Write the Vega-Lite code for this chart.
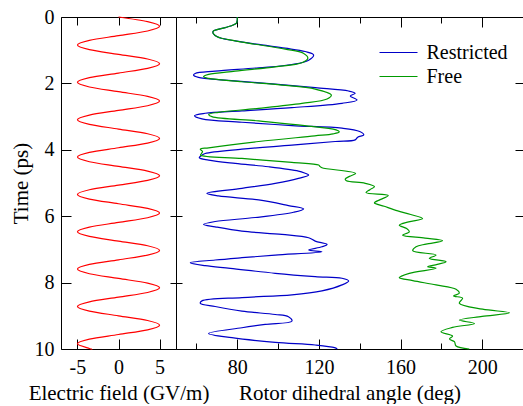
{
  "$schema": "https://vega.github.io/schema/vega-lite/v6.json",
  "padding": {"left": 9, "top": 6, "right": 0, "bottom": 0},
  "background": "white",
  "spacing": 0,
  "bounds": "flush",
  "config": {
    "font": "Liberation Serif",
    "view": {"stroke": "black", "strokeWidth": 1},
    "axis": {
      "domain": false, "grid": false, "tickColor": "black", "tickWidth": 1, "minExtent": 0,
      "labelFont": "Liberation Serif", "labelFontSize": 20, "labelColor": "black", "labelFlush": false,
      "titleFont": "Liberation Serif", "titleFontSize": 21, "titleFontWeight": "normal", "titleColor": "black"
    },
    "axisX": {"minExtent": 0},
    "axisY": {"minExtent": 0}
  },
  "datasets": {
    "efield": [
      {"t":0,"E":0},{"t":0.141,"E":3.54},{"t":0.281,"E":5},{"t":0.422,"E":3.54},{"t":0.563,"E":0},{"t":0.703,"E":-3.54},{"t":0.844,"E":-5},{"t":0.984,"E":-3.54},
      {"t":1.125,"E":0},{"t":1.266,"E":3.54},{"t":1.406,"E":5},{"t":1.547,"E":3.54},{"t":1.688,"E":0},{"t":1.828,"E":-3.54},{"t":1.969,"E":-5},{"t":2.109,"E":-3.54},
      {"t":2.25,"E":0},{"t":2.391,"E":3.54},{"t":2.531,"E":5},{"t":2.672,"E":3.54},{"t":2.813,"E":0},{"t":2.953,"E":-3.54},{"t":3.094,"E":-5},{"t":3.234,"E":-3.54},
      {"t":3.375,"E":0},{"t":3.516,"E":3.54},{"t":3.656,"E":5},{"t":3.797,"E":3.54},{"t":3.938,"E":0},{"t":4.078,"E":-3.54},{"t":4.219,"E":-5},{"t":4.359,"E":-3.54},
      {"t":4.5,"E":0},{"t":4.641,"E":3.54},{"t":4.781,"E":5},{"t":4.922,"E":3.54},{"t":5.063,"E":0},{"t":5.203,"E":-3.54},{"t":5.344,"E":-5},{"t":5.484,"E":-3.54},
      {"t":5.625,"E":0},{"t":5.766,"E":3.54},{"t":5.906,"E":5},{"t":6.047,"E":3.54},{"t":6.188,"E":0},{"t":6.328,"E":-3.54},{"t":6.469,"E":-5},{"t":6.609,"E":-3.54},
      {"t":6.75,"E":0},{"t":6.891,"E":3.54},{"t":7.031,"E":5},{"t":7.172,"E":3.54},{"t":7.313,"E":0},{"t":7.453,"E":-3.54},{"t":7.594,"E":-5},{"t":7.734,"E":-3.54},
      {"t":7.875,"E":0},{"t":8.016,"E":3.54},{"t":8.156,"E":5},{"t":8.297,"E":3.54},{"t":8.438,"E":0},{"t":8.578,"E":-3.54},{"t":8.719,"E":-5},{"t":8.859,"E":-3.54},
      {"t":9.0,"E":0},{"t":9.141,"E":3.54},{"t":9.281,"E":5},{"t":9.422,"E":3.54},{"t":9.563,"E":0},{"t":9.703,"E":-3.54},{"t":9.844,"E":-5},{"t":9.984,"E":-3.54},
      {"t":10,"E":-3.2}
    ],
    "angles": [
      {"t":0,"a":80,"s":"Restricted"},{"t":0.1,"a":80,"s":"Restricted"},{"t":0.19,"a":79.5,"s":"Restricted"},{"t":0.32,"a":74.1,"s":"Restricted"},{"t":0.44,"a":68.1,"s":"Restricted"},{"t":0.59,"a":70,"s":"Restricted"},{"t":0.72,"a":79,"s":"Restricted"},{"t":0.84,"a":92,"s":"Restricted"},{"t":0.94,"a":103.5,"s":"Restricted"},{"t":1.04,"a":113.3,"s":"Restricted"},{"t":1.14,"a":117.4,"s":"Restricted"},{"t":1.3,"a":115,"s":"Restricted"},{"t":1.43,"a":106.8,"s":"Restricted"},{"t":1.53,"a":90.5,"s":"Restricted"},{"t":1.63,"a":69.2,"s":"Restricted"},{"t":1.7,"a":59.4,"s":"Restricted"},{"t":1.75,"a":58.6,"s":"Restricted"},{"t":1.82,"a":61,"s":"Restricted"},{"t":1.9,"a":74,"s":"Restricted"},{"t":2.02,"a":98.6,"s":"Restricted"},{"t":2.13,"a":118.2,"s":"Restricted"},{"t":2.23,"a":134.6,"s":"Restricted"},{"t":2.3,"a":137.8,"s":"Restricted"},{"t":2.38,"a":135.4,"s":"Restricted"},{"t":2.5,"a":138.7,"s":"Restricted"},{"t":2.6,"a":131.3,"s":"Restricted"},{"t":2.73,"a":106.8,"s":"Restricted"},{"t":2.83,"a":82.3,"s":"Restricted"},{"t":2.9,"a":64.3,"s":"Restricted"},{"t":2.97,"a":59.1,"s":"Restricted"},{"t":3.07,"a":62.7,"s":"Restricted"},{"t":3.17,"a":82.3,"s":"Restricted"},{"t":3.27,"a":106.8,"s":"Restricted"},{"t":3.35,"a":131.3,"s":"Restricted"},{"t":3.45,"a":140,"s":"Restricted"},{"t":3.55,"a":142,"s":"Restricted"},{"t":3.62,"a":139,"s":"Restricted"},{"t":3.7,"a":137.8,"s":"Restricted"},{"t":3.75,"a":128,"s":"Restricted"},{"t":3.86,"a":106.8,"s":"Restricted"},{"t":3.98,"a":82.3,"s":"Restricted"},{"t":4.11,"a":64.3,"s":"Restricted"},{"t":4.17,"a":62.5,"s":"Restricted"},{"t":4.24,"a":61.4,"s":"Restricted"},{"t":4.31,"a":66,"s":"Restricted"},{"t":4.41,"a":79,"s":"Restricted"},{"t":4.51,"a":95.3,"s":"Restricted"},{"t":4.64,"a":110,"s":"Restricted"},{"t":4.7,"a":113,"s":"Restricted"},{"t":4.76,"a":115,"s":"Restricted"},{"t":4.86,"a":110,"s":"Restricted"},{"t":5.01,"a":98.6,"s":"Restricted"},{"t":5.16,"a":82.3,"s":"Restricted"},{"t":5.31,"a":65.1,"s":"Restricted"},{"t":5.39,"a":70.8,"s":"Restricted"},{"t":5.51,"a":90.5,"s":"Restricted"},{"t":5.68,"a":105.1,"s":"Restricted"},{"t":5.78,"a":112.5,"s":"Restricted"},{"t":5.88,"a":107.6,"s":"Restricted"},{"t":6.04,"a":88.8,"s":"Restricted"},{"t":6.16,"a":69.2,"s":"Restricted"},{"t":6.25,"a":63.5,"s":"Restricted"},{"t":6.32,"a":69.2,"s":"Restricted"},{"t":6.45,"a":82.3,"s":"Restricted"},{"t":6.55,"a":101.9,"s":"Restricted"},{"t":6.65,"a":115,"s":"Restricted"},{"t":6.75,"a":118.2,"s":"Restricted"},{"t":6.85,"a":124,"s":"Restricted"},{"t":6.92,"a":121.5,"s":"Restricted"},{"t":7.02,"a":115,"s":"Restricted"},{"t":7.07,"a":121.5,"s":"Restricted"},{"t":7.17,"a":98.6,"s":"Restricted"},{"t":7.25,"a":82.3,"s":"Restricted"},{"t":7.32,"a":69.2,"s":"Restricted"},{"t":7.4,"a":57,"s":"Restricted"},{"t":7.49,"a":64.3,"s":"Restricted"},{"t":7.57,"a":76.6,"s":"Restricted"},{"t":7.72,"a":98.6,"s":"Restricted"},{"t":7.82,"a":118.2,"s":"Restricted"},{"t":7.87,"a":131.3,"s":"Restricted"},{"t":7.95,"a":134.6,"s":"Restricted"},{"t":8.07,"a":131.3,"s":"Restricted"},{"t":8.25,"a":121.5,"s":"Restricted"},{"t":8.37,"a":106.8,"s":"Restricted"},{"t":8.45,"a":82.3,"s":"Restricted"},{"t":8.55,"a":62.7,"s":"Restricted"},{"t":8.62,"a":61.9,"s":"Restricted"},{"t":8.72,"a":69.2,"s":"Restricted"},{"t":8.86,"a":82.3,"s":"Restricted"},{"t":8.96,"a":98.6,"s":"Restricted"},{"t":9.03,"a":105.1,"s":"Restricted"},{"t":9.16,"a":106.8,"s":"Restricted"},{"t":9.26,"a":93.7,"s":"Restricted"},{"t":9.36,"a":82.3,"s":"Restricted"},{"t":9.53,"a":66,"s":"Restricted"},{"t":9.66,"a":77.4,"s":"Restricted"},{"t":9.8,"a":98.6,"s":"Restricted"},{"t":9.88,"a":118.2,"s":"Restricted"},{"t":9.96,"a":127.7,"s":"Restricted"},{"t":10,"a":129,"s":"Restricted"},
      {"t":0,"a":80,"s":"Free"},{"t":0.1,"a":80,"s":"Free"},{"t":0.19,"a":79.5,"s":"Free"},{"t":0.32,"a":74.1,"s":"Free"},{"t":0.44,"a":68.1,"s":"Free"},{"t":0.59,"a":70,"s":"Free"},{"t":0.72,"a":79,"s":"Free"},{"t":0.82,"a":88.8,"s":"Free"},{"t":0.97,"a":103.5,"s":"Free"},{"t":1.09,"a":112.4,"s":"Free"},{"t":1.24,"a":114.6,"s":"Free"},{"t":1.38,"a":111.7,"s":"Free"},{"t":1.5,"a":98.6,"s":"Free"},{"t":1.63,"a":79,"s":"Free"},{"t":1.73,"a":66,"s":"Free"},{"t":1.8,"a":63.5,"s":"Free"},{"t":1.85,"a":66,"s":"Free"},{"t":1.95,"a":82.3,"s":"Free"},{"t":2.05,"a":101.9,"s":"Free"},{"t":2.17,"a":118.2,"s":"Free"},{"t":2.35,"a":126.1,"s":"Free"},{"t":2.47,"a":124,"s":"Free"},{"t":2.6,"a":111.7,"s":"Free"},{"t":2.75,"a":90.5,"s":"Free"},{"t":2.87,"a":70.9,"s":"Free"},{"t":2.93,"a":66,"s":"Free"},{"t":3,"a":67.6,"s":"Free"},{"t":3.13,"a":90.5,"s":"Free"},{"t":3.27,"a":113,"s":"Free"},{"t":3.4,"a":128.4,"s":"Free"},{"t":3.46,"a":130,"s":"Free"},{"t":3.52,"a":127,"s":"Free"},{"t":3.58,"a":118,"s":"Free"},{"t":3.75,"a":90.5,"s":"Free"},{"t":3.94,"a":66,"s":"Free"},{"t":3.98,"a":61.9,"s":"Free"},{"t":4.05,"a":63,"s":"Free"},{"t":4.11,"a":62.5,"s":"Free"},{"t":4.16,"a":62,"s":"Free"},{"t":4.26,"a":82.3,"s":"Free"},{"t":4.38,"a":106.8,"s":"Free"},{"t":4.46,"a":119.9,"s":"Free"},{"t":4.5,"a":120.5,"s":"Free"},{"t":4.54,"a":121.5,"s":"Free"},{"t":4.71,"a":138,"s":"Free"},{"t":4.8,"a":135,"s":"Free"},{"t":4.88,"a":132.9,"s":"Free"},{"t":4.93,"a":133.5,"s":"Free"},{"t":5.01,"a":142.7,"s":"Free"},{"t":5.11,"a":147.2,"s":"Free"},{"t":5.2,"a":145,"s":"Free"},{"t":5.29,"a":143.1,"s":"Free"},{"t":5.38,"a":154,"s":"Free"},{"t":5.5,"a":150,"s":"Free"},{"t":5.6,"a":147.2,"s":"Free"},{"t":5.7,"a":152,"s":"Free"},{"t":5.81,"a":157,"s":"Free"},{"t":5.95,"a":165,"s":"Free"},{"t":6.07,"a":170.8,"s":"Free"},{"t":6.17,"a":164,"s":"Free"},{"t":6.27,"a":159.4,"s":"Free"},{"t":6.37,"a":163,"s":"Free"},{"t":6.47,"a":164.3,"s":"Free"},{"t":6.57,"a":161,"s":"Free"},{"t":6.66,"a":172,"s":"Free"},{"t":6.74,"a":180.6,"s":"Free"},{"t":6.84,"a":172.5,"s":"Free"},{"t":6.92,"a":167.6,"s":"Free"},{"t":7.04,"a":166,"s":"Free"},{"t":7.17,"a":177.4,"s":"Free"},{"t":7.27,"a":174.1,"s":"Free"},{"t":7.37,"a":182.3,"s":"Free"},{"t":7.45,"a":178,"s":"Free"},{"t":7.52,"a":173.3,"s":"Free"},{"t":7.57,"a":177.4,"s":"Free"},{"t":7.72,"a":164.3,"s":"Free"},{"t":7.85,"a":159.4,"s":"Free"},{"t":7.94,"a":166,"s":"Free"},{"t":8.07,"a":177.4,"s":"Free"},{"t":8.2,"a":187.2,"s":"Free"},{"t":8.32,"a":188.8,"s":"Free"},{"t":8.4,"a":186,"s":"Free"},{"t":8.47,"a":190.4,"s":"Free"},{"t":8.62,"a":188.8,"s":"Free"},{"t":8.8,"a":200.2,"s":"Free"},{"t":8.91,"a":213.3,"s":"Free"},{"t":9.02,"a":200,"s":"Free"},{"t":9.13,"a":188.8,"s":"Free"},{"t":9.23,"a":196.2,"s":"Free"},{"t":9.35,"a":185.5,"s":"Free"},{"t":9.48,"a":179.8,"s":"Free"},{"t":9.61,"a":185.5,"s":"Free"},{"t":9.7,"a":184,"s":"Free"},{"t":9.78,"a":186.4,"s":"Free"},{"t":9.91,"a":187.2,"s":"Free"},{"t":10,"a":193.7,"s":"Free"}
    ]
  },
  "hconcat": [
    {
      "width": 115,
      "height": 332,
      "data": {"name": "efield"},
      "resolve": {"axis": {"x": "independent", "y": "independent"}},
      "layer": [
        {
          "mark": {"type": "line", "color": "#ff0000", "strokeWidth": 1.2, "interpolate": "cardinal"},
          "encoding": {
            "x": {"field": "E", "type": "quantitative", "scale": {"domain": [-7, 7], "nice": false, "zero": false},
                  "axis": {"orient": "bottom", "values": [-5, 0, 5], "labelExpr": "datum.value < 0 ? '-' + abs(datum.value) : datum.label", "tickSize": -10, "labelPadding": 18.5, "minExtent": 0, "title": "Electric field (GV/m)", "titlePadding": 5}},
            "y": {"field": "t", "type": "quantitative", "scale": {"domain": [0, 10], "reverse": true, "nice": false, "zero": false},
                  "axis": {"orient": "left", "values": [0, 2, 4, 6, 8, 10], "tickSize": -10, "labelPadding": 17, "minExtent": 0, "title": "Time (ps)", "titlePadding": 3}},
            "order": {"field": "t", "type": "quantitative"}
          }
        },
        {
          "mark": {"type": "line", "opacity": 0},
          "encoding": {
            "x": {"field": "E", "type": "quantitative", "scale": {"domain": [-7, 7], "nice": false, "zero": false},
                  "axis": {"orient": "top", "values": [-5, 0, 5], "tickSize": -8, "labels": false, "minExtent": 0, "title": null}},
            "y": {"field": "t", "type": "quantitative", "scale": {"domain": [0, 10], "reverse": true, "nice": false, "zero": false},
                  "axis": {"orient": "right", "values": [2, 4, 6, 8], "tickSize": -6, "labels": false, "minExtent": 0, "title": null}},
            "order": {"field": "t", "type": "quantitative"}
          }
        }
      ]
    },
    {
      "width": 347,
      "height": 332,
      "data": {"name": "angles"},
      "resolve": {"axis": {"x": "independent", "y": "independent"}},
      "layer": [
        {
          "mark": {"type": "line", "strokeWidth": 1.2, "interpolate": "catmull-rom"},
          "encoding": {
            "x": {"field": "a", "type": "quantitative", "scale": {"domain": [50, 220], "nice": false, "zero": false},
                  "axis": {"orient": "bottom", "values": [80, 120, 160, 200], "tickSize": -10, "labelPadding": 18.5, "minExtent": 0, "title": "Rotor dihedral angle (deg)", "titlePadding": 5}},
            "y": {"field": "t", "type": "quantitative", "scale": {"domain": [0, 10], "reverse": true, "nice": false, "zero": false},
                  "axis": {"orient": "left", "values": [2, 4, 6, 8], "tickSize": -6, "labels": false, "minExtent": 0, "title": null}},
            "color": {"field": "s", "type": "nominal", "scale": {"domain": ["Restricted", "Free"], "range": ["#0000c8", "#009a00"]},
                      "legend": {"title": null, "orient": "none", "legendX": 327, "legendY": 25, "padding": 0,
                                 "symbolType": "M-2,0L2,0", "symbolSize": 361, "symbolStrokeWidth": 1.2,
                                 "labelFont": "Liberation Serif", "labelFontSize": 20, "labelColor": "black", "labelOffset": 17.5, "rowPadding": 3}},
            "order": {"field": "t", "type": "quantitative"}
          }
        },
        {
          "mark": {"type": "line", "opacity": 0},
          "encoding": {
            "x": {"field": "a", "type": "quantitative", "scale": {"domain": [50, 220], "nice": false, "zero": false},
                  "axis": {"orient": "top", "values": [80, 120, 160, 200], "tickSize": -10, "labels": false, "minExtent": 0, "title": null}},
            "y": {"field": "t", "type": "quantitative", "scale": {"domain": [0, 10], "reverse": true, "nice": false, "zero": false},
                  "axis": {"orient": "right", "values": [2, 4, 6, 8], "tickSize": -8, "labels": false, "minExtent": 0, "title": null}},
            "order": {"field": "t", "type": "quantitative"}
          }
        },
        {
          "mark": {"type": "line", "opacity": 0},
          "encoding": {
            "x": {"field": "a", "type": "quantitative", "scale": {"domain": [50, 220], "nice": false, "zero": false},
                  "axis": {"orient": "bottom", "values": [60, 100, 140, 180], "tickSize": -6, "labels": false, "minExtent": 0, "title": null}},
            "y": {"field": "t", "type": "quantitative", "scale": {"domain": [0, 10], "reverse": true, "nice": false, "zero": false}, "axis": null},
            "order": {"field": "t", "type": "quantitative"}
          }
        },
        {
          "mark": {"type": "line", "opacity": 0},
          "encoding": {
            "x": {"field": "a", "type": "quantitative", "scale": {"domain": [50, 220], "nice": false, "zero": false},
                  "axis": {"orient": "top", "values": [60, 100, 140, 180], "tickSize": -6, "labels": false, "minExtent": 0, "title": null}},
            "y": {"field": "t", "type": "quantitative", "scale": {"domain": [0, 10], "reverse": true, "nice": false, "zero": false}, "axis": null},
            "order": {"field": "t", "type": "quantitative"}
          }
        }
      ]
    }
  ]
}
